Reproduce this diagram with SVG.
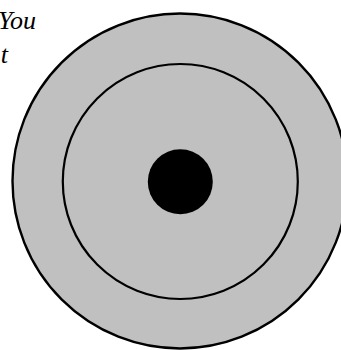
<svg xmlns="http://www.w3.org/2000/svg" width="341" height="350" viewBox="0 0 341 350">
<style>
.ring{fill:#c0c0c0;stroke:#000;stroke-width:2.4}
.line{fill:none;stroke:#000;stroke-width:2.2}
.t{font-family:"Liberation Serif",serif;font-style:italic;font-size:26px;fill:#000}
</style>
<rect width="341" height="350" fill="#fff"/>
<g id="text">
<text class="t" x="36" y="29" text-anchor="end">You</text>
<text class="t" x="8" y="63" text-anchor="end">t</text>
</g>
<g id="outer"><circle class="ring" cx="180" cy="181" r="167.5"/></g>
<g id="inner"><circle class="line" cx="180.3" cy="181.5" r="117.5"/></g>
<g id="center"><circle cx="180.3" cy="181.7" r="32.5" fill="#000"/></g>
</svg>
